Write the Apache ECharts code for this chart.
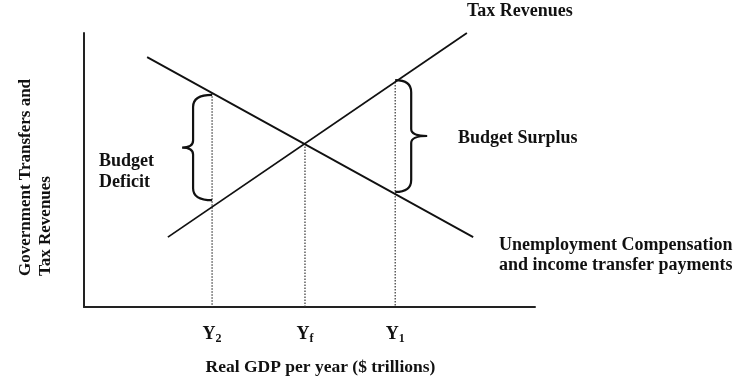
<!DOCTYPE html>
<html>
<head>
<meta charset="utf-8">
<script src="https://cdn.jsdelivr.net/npm/echarts@6/dist/echarts.min.js"></script>
<style>html,body{margin:0;padding:0;background:#fff}#c{width:739px;height:381px}</style>
</head>
<body>
<div id="c"></div>
<script>
// ---- data (abstract scale 0..100 on both axes) ----
const taxRevenues = [[18.6, 25.5], [84.9, 100]];
const transferPayments = [[14.0, 91.2], [86.3, 25.5]];
const tickValues = [28.4, 49.0, 69.0];
const tickMain = ['Y', 'Y', 'Y'];
const tickSub = ['2', 'f', '1'];
const dropTops = [78.0, 59.7, 82.1];
// brace: x, low, high, direction (-1 points left, 1 points right)
const braceX = [28.4, 69.0];
const braceLow = [39.0, 42.0];
const braceHigh = [77.4, 82.8];
const braceDir = [-1, 1];

const FONT = '"Liberation Serif", "Times New Roman", serif';
const INK = '#111';

const chart = echarts.init(document.getElementById('c'), null, {renderer: 'canvas'});

const dropData = tickValues.map((v, i) => [v, dropTops[i]]);
const braceData = braceX.map((v, i) => [v, braceLow[i], braceHigh[i], braceDir[i]]);

function nearestIdx(v) {
  let best = 0;
  tickValues.forEach((t, i) => { if (Math.abs(t - v) < Math.abs(tickValues[best] - v)) best = i; });
  return best;
}

chart.setOption({
  animation: false,
  backgroundColor: '#fff',
  grid: {left: 84, right: 204, top: 33, bottom: 74},
  xAxis: {
    type: 'value', min: 0, max: 100,
    axisLine: {show: true, onZero: false, lineStyle: {color: '#222', width: 2}},
    axisTick: {show: false},
    splitLine: {show: false},
    axisLabel: {
      customValues: tickValues,
      margin: 17,
      formatter: function (v) { const i = nearestIdx(v); return '{b|' + tickMain[i] + '}{s|' + tickSub[i] + '}'; },
      rich: {
        b: {fontFamily: FONT, fontWeight: 'bold', fontSize: 18, color: INK},
        s: {fontFamily: FONT, fontWeight: 'bold', fontSize: 12, color: INK, padding: [9, 0, 0, 0]}
      }
    },
    name: 'Real GDP per year ($ trillions)',
    nameLocation: 'middle',
    nameGap: 51,
    nameTextStyle: {fontFamily: FONT, fontWeight: 'bold', fontSize: 17.5, color: INK, padding: [0, 0, 0, 22]}
  },
  yAxis: {
    type: 'value', min: 0, max: 100,
    axisLine: {show: true, onZero: false, lineStyle: {color: '#222', width: 2}},
    axisTick: {show: false},
    splitLine: {show: false},
    axisLabel: {show: false}
  },
  series: [
    {
      type: 'line', name: 'Tax Revenues', data: taxRevenues,
      symbol: 'none', lineStyle: {color: INK, width: 1.8}, z: 3
    },
    {
      type: 'line', name: 'Transfers', data: transferPayments,
      symbol: 'none', lineStyle: {color: INK, width: 1.8}, z: 3
    },
    {
      type: 'custom', name: 'drops', data: dropData, z: 2,
      renderItem: function (params, api) {
        const top = api.coord([api.value(0), api.value(1)]);
        const bot = api.coord([api.value(0), 0]);
        return {
          type: 'line',
          shape: {x1: top[0], y1: top[1], x2: bot[0], y2: bot[1]},
          style: {stroke: '#333', lineWidth: 1.2, lineDash: [1.5, 1.5]}
        };
      }
    },
    {
      type: 'custom', name: 'braces', data: braceData, z: 4,
      renderItem: function (params, api) {
        const x = api.value(0), lo = api.value(1), hi = api.value(2), d = api.value(3);
        const pt = api.coord([x, hi]), pb = api.coord([x, lo]);
        const xe = pt[0];
        const e = d < 0 ? 19 : 16;
        const p = d < 0 ? 11 : 16;
        const xs = xe + d * e, xp = xs + d * p;
        const yt = pt[1], yb = pb[1], ym = (yt + yb) / 2;
        const r = 12, rm = 7;
        const path = 'M' + xe + ' ' + yt +
          ' Q' + xs + ' ' + yt + ' ' + xs + ' ' + (yt + r) +
          ' L' + xs + ' ' + (ym - rm) +
          ' Q' + xs + ' ' + ym + ' ' + xp + ' ' + ym +
          ' Q' + xs + ' ' + ym + ' ' + xs + ' ' + (ym + rm) +
          ' L' + xs + ' ' + (yb - r) +
          ' Q' + xs + ' ' + yb + ' ' + xe + ' ' + yb;
        return {
          type: 'path',
          shape: {pathData: path},
          style: {fill: null, stroke: INK, lineWidth: 2.2}
        };
      }
    }
  ],
  graphic: [
    {type: 'text', left: 467, top: 2, style: {text: 'Tax Revenues', font: 'bold 18px ' + FONT, fill: INK}},
    {type: 'text', left: 458, top: 129, style: {text: 'Budget Surplus', font: 'bold 18px ' + FONT, fill: INK}},
    {type: 'text', left: 99, top: 151, style: {text: 'Budget\nDeficit', font: 'bold 18px ' + FONT, fill: INK, lineHeight: 21}},
    {type: 'text', left: 499, top: 235, style: {text: 'Unemployment Compensation\nand income transfer payments', font: 'bold 18px ' + FONT, fill: INK, lineHeight: 20}},
    {type: 'text', x: 16, y: 276, rotation: Math.PI / 2,
      style: {text: 'Government Transfers and\nTax Revenues', font: 'bold 17px ' + FONT, fill: INK, lineHeight: 20, align: 'left', verticalAlign: 'top'}}
  ]
});
</script>
</body>
</html>
